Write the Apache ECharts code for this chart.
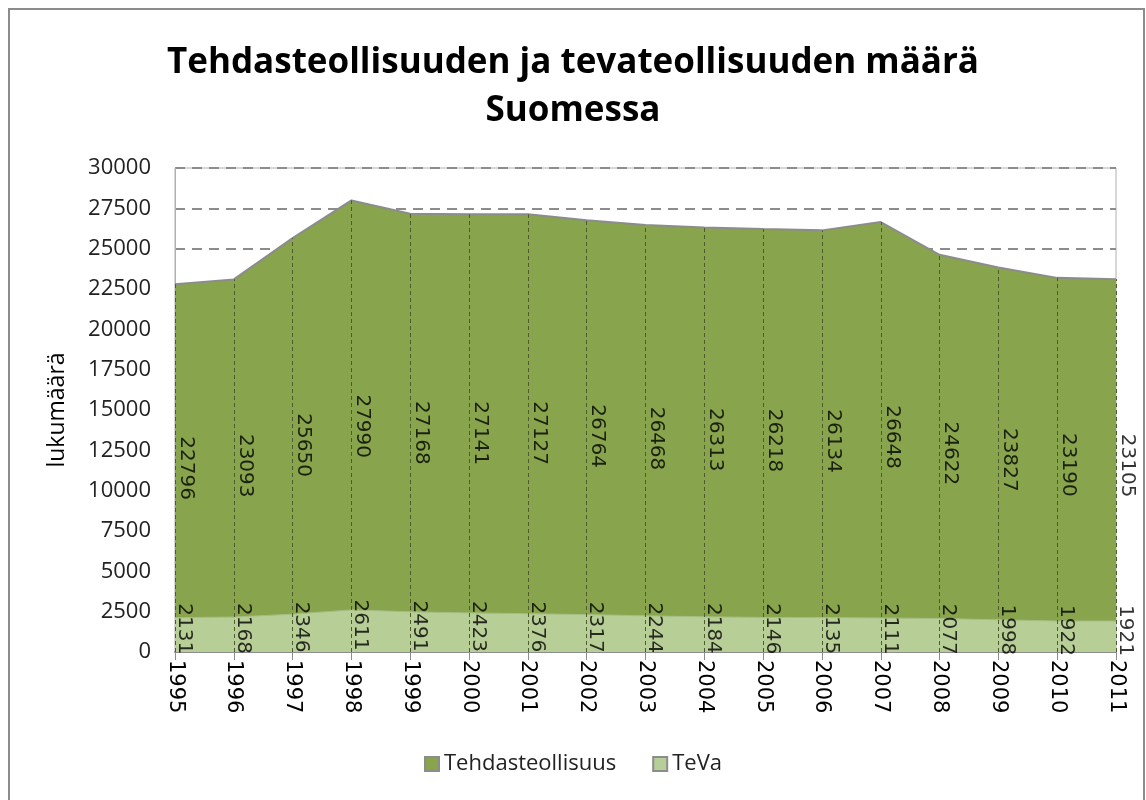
<!DOCTYPE html>
<html>
<head>
<meta charset="utf-8">
<script src="https://cdn.jsdelivr.net/npm/echarts@6/dist/echarts.min.js"></script>
<style>
  html, body { margin: 0; padding: 0; background: #fff; }
  #chart { width: 1146px; height: 800px; }
</style>
</head>
<body>
<div id="chart"></div>
<script>
// vuodet ja sarjat
var years = ['1995', '1996', '1997', '1998', '1999', '2000', '2001', '2002', '2003',
  '2004', '2005', '2006', '2007', '2008', '2009', '2010', '2011'];
var tehdas = [22796, 23093, 25650, 27990, 27168, 27141, 27127, 26764, 26468,
  26313, 26218, 26134, 26648, 24622, 23827, 23190, 23105];
var teva = [2131, 2168, 2346, 2611, 2491, 2423, 2376, 2317, 2244,
  2184, 2146, 2135, 2111, 2077, 1998, 1922, 1921];
var yTicks = [0, 2500, 5000, 7500, 10000, 12500, 15000, 17500, 20000, 22500, 25000, 27500, 30000];

var darkGreen = '#88a44c';
var lightGreen = '#b8ce97';
var labelFont = 'DejaVu Sans';
var axisFont = 'Open Sans';

// pudotusviivat pisteistä x-akselille
var dropLines = tehdas.map(function (v, i) {
  return [{ coord: [years[i], 0] }, { coord: [years[i], v] }];
});

// offset on kierretyssä koordinaatistossa: [alas, vasemmalle]
function midLabels(name, values, offset) {
  return {
    name: name + '_labels',
    type: 'scatter',
    symbolSize: 0,
    silent: true,
    z: 5,
    data: values.map(function (v) { return v / 2; }),
    label: {
      show: true,
      position: 'inside',
      rotate: -90,
      offset: offset,
      fontFamily: labelFont,
      fontSize: 20,
      color: '#000',
      formatter: function (p) { return String(values[p.dataIndex]); }
    }
  };
}

var option = {
  animation: false,
  backgroundColor: '#fff',
  graphic: [{
    type: 'rect',
    shape: { x: 9, y: 9, width: 1135, height: 810 },
    style: { fill: 'none', stroke: '#8c8c8c', lineWidth: 2 },
    silent: true
  }],
  title: {
    text: 'Tehdasteollisuuden ja tevateollisuuden määrä\nSuomessa',
    left: 'center',
    top: 34,
    textStyle: {
      fontFamily: 'Open Sans',
      fontWeight: 'bold',
      fontSize: 35,
      lineHeight: 48,
      color: '#000'
    }
  },
  legend: {
    data: ['Tehdasteollisuus', 'TeVa'],
    bottom: 20,
    left: 'center',
    icon: 'rect',
    itemWidth: 14,
    itemHeight: 14,
    itemGap: 36,
    textStyle: { fontFamily: axisFont, fontSize: 22, color: '#222' }
  },
  grid: {
    left: 175,
    right: 30,
    top: 168,
    bottom: 148,
    show: true,
    borderColor: '#b0b0b0',
    borderWidth: 1
  },
  xAxis: {
    type: 'category',
    data: years,
    boundaryGap: false,
    axisLine: { lineStyle: { color: '#8c8c8c', width: 2 } },
    axisTick: { show: true, length: 8, lineStyle: { color: '#8c8c8c', width: 1 } },
    axisLabel: {
      rotate: -90,
      margin: 8,
      fontFamily: labelFont,
      fontSize: 21,
      color: '#000'
    },
    splitLine: { show: false }
  },
  yAxis: {
    type: 'value',
    min: 0,
    max: yTicks[yTicks.length - 1],
    interval: yTicks[1] - yTicks[0],
    name: 'lukumäärä',
    nameLocation: 'middle',
    nameRotate: 90,
    nameGap: 106,
    nameTextStyle: { fontFamily: axisFont, fontSize: 23, color: '#000' },
    axisLine: { show: true, lineStyle: { color: '#b0b0b0', width: 1 } },
    axisTick: { show: false },
    axisLabel: {
      margin: 24,
      fontFamily: axisFont,
      fontSize: 22,
      color: '#222',
      formatter: function (v) { return String(v); }
    },
    splitLine: {
      show: true,
      lineStyle: { color: '#8c8c8c', width: 2, type: [10, 7] }
    }
  },
  series: [
    {
      name: 'Tehdasteollisuus',
      type: 'line',
      data: tehdas,
      symbol: 'none',
      z: 2,
      itemStyle: { color: darkGreen, borderColor: '#8c8c8c', borderWidth: 1 },
      lineStyle: { color: '#8c8c8c', width: 2 },
      areaStyle: { color: darkGreen, opacity: 1 }
    },
    {
      name: 'TeVa',
      type: 'line',
      data: teva,
      symbol: 'none',
      z: 3,
      itemStyle: { color: lightGreen, borderColor: '#8c8c8c', borderWidth: 1 },
      lineStyle: { color: '#a6bd84', width: 1 },
      areaStyle: { color: lightGreen, opacity: 1 },
      markLine: {
        silent: true,
        symbol: 'none',
        label: { show: false },
        lineStyle: { color: '#4d5c2c', width: 1, type: [4, 3] },
        data: dropLines
      }
    },
    midLabels('Tehdasteollisuus', tehdas, [0, -11]),
    midLabels('TeVa', teva, [-6, -9])
  ]
};

var chart = echarts.init(document.getElementById('chart'));
chart.setOption(option);
</script>
</body>
</html>
